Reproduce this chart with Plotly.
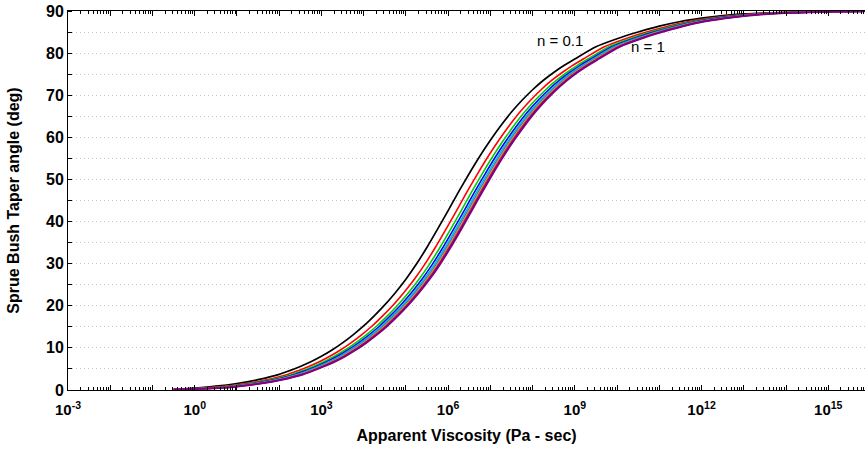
import plotly.graph_objects as go

# Taper angle levels (deg) shared by all curves
ANGLE_DEG = [0.1, 0.45, 0.9, 1.55, 2.45, 3.7, 4.6, 5.6, 6.7, 8.0, 9.5, 11.2, 13.1, 15.2, 17.6,
             20.2, 23.1, 26.3, 29.9, 33.9, 38.2, 42.6, 47.1, 51.4, 55.5, 59.3, 62.8, 66.0, 68.8,
             71.3, 73.5, 75.4, 77.1, 78.6, 81.5, 83.4, 85.0, 86.4, 87.5, 88.3, 88.9, 89.3,
             89.7, 89.9, 90.0]

# log10(apparent viscosity, Pa-s) at which each curve reaches the angle levels above
LOGVISC_N01 = [-0.5, 0.0, 0.5, 1.0, 1.5, 2.0, 2.25, 2.5, 2.75, 3.0, 3.25, 3.5, 3.75, 4.0, 4.25,
               4.5, 4.75, 5.0, 5.25, 5.5, 5.75, 6.0, 6.25, 6.5, 6.75, 7.0, 7.25, 7.5, 7.75, 8.0,
               8.25, 8.5, 8.75, 9.0, 9.5, 10.0, 10.5, 11.0, 11.5, 12.0, 12.5, 13.0, 14.0, 15.0, 16.0]
LOGVISC_N02 = [-0.5, 0.2, 0.7, 1.2, 1.7, 2.2, 2.45, 2.7, 2.95, 3.2, 3.45, 3.7, 3.95, 4.2, 4.45,
               4.7, 4.95, 5.2, 5.45, 5.7, 5.95, 6.2, 6.45, 6.7, 6.95, 7.2, 7.45, 7.7, 7.95, 8.2,
               8.45, 8.7, 8.95, 9.2, 9.7, 10.2, 10.7, 11.2, 11.7, 12.2, 12.7, 13.2, 14.2, 15.2, 16.2]
LOGVISC_N03 = [-0.5, 0.31, 0.81, 1.31, 1.81, 2.31, 2.56, 2.81, 3.06, 3.31, 3.56, 3.81, 4.06, 4.31, 4.56,
               4.81, 5.06, 5.31, 5.56, 5.81, 6.06, 6.31, 6.56, 6.81, 7.06, 7.31, 7.56, 7.81, 8.06, 8.31,
               8.56, 8.81, 9.06, 9.31, 9.81, 10.31, 10.81, 11.31, 11.81, 12.31, 12.81, 13.31, 14.31, 15.31, 16.31]
LOGVISC_N04 = [-0.5, 0.38, 0.88, 1.38, 1.88, 2.38, 2.63, 2.88, 3.13, 3.38, 3.63, 3.88, 4.13, 4.38, 4.63,
               4.88, 5.13, 5.38, 5.63, 5.88, 6.13, 6.38, 6.63, 6.88, 7.13, 7.38, 7.63, 7.88, 8.13, 8.38,
               8.63, 8.88, 9.13, 9.38, 9.88, 10.38, 10.88, 11.38, 11.88, 12.38, 12.88, 13.38, 14.38, 15.38, 16.38]
LOGVISC_N05 = [-0.5, 0.43, 0.93, 1.43, 1.93, 2.43, 2.68, 2.93, 3.18, 3.43, 3.68, 3.93, 4.18, 4.43, 4.68,
               4.93, 5.18, 5.43, 5.68, 5.93, 6.18, 6.43, 6.68, 6.93, 7.18, 7.43, 7.68, 7.93, 8.18, 8.43,
               8.68, 8.93, 9.18, 9.43, 9.93, 10.43, 10.93, 11.43, 11.93, 12.43, 12.93, 13.43, 14.43, 15.43, 16.43]
LOGVISC_N06 = [-0.5, 0.47, 0.97, 1.47, 1.97, 2.47, 2.72, 2.97, 3.22, 3.47, 3.72, 3.97, 4.22, 4.47, 4.72,
               4.97, 5.22, 5.47, 5.72, 5.97, 6.22, 6.47, 6.72, 6.97, 7.22, 7.47, 7.72, 7.97, 8.22, 8.47,
               8.72, 8.97, 9.22, 9.47, 9.97, 10.47, 10.97, 11.47, 11.97, 12.47, 12.97, 13.47, 14.47, 15.47, 16.47]
LOGVISC_N07 = [-0.5, 0.5, 1.0, 1.5, 2.0, 2.5, 2.75, 3.0, 3.25, 3.5, 3.75, 4.0, 4.25, 4.5, 4.75,
               5.0, 5.25, 5.5, 5.75, 6.0, 6.25, 6.5, 6.75, 7.0, 7.25, 7.5, 7.75, 8.0, 8.25, 8.5,
               8.75, 9.0, 9.25, 9.5, 10.0, 10.5, 11.0, 11.5, 12.0, 12.5, 13.0, 13.5, 14.5, 15.5, 16.5]
LOGVISC_N08 = [-0.5, 0.52, 1.02, 1.52, 2.02, 2.52, 2.77, 3.02, 3.27, 3.52, 3.77, 4.02, 4.27, 4.52, 4.77,
               5.02, 5.27, 5.52, 5.77, 6.02, 6.27, 6.52, 6.77, 7.02, 7.27, 7.52, 7.77, 8.02, 8.27, 8.52,
               8.77, 9.02, 9.27, 9.52, 10.02, 10.52, 11.02, 11.52, 12.02, 12.52, 13.02, 13.52, 14.52, 15.52, 16.52]
LOGVISC_N09 = [-0.5, 0.54, 1.04, 1.54, 2.04, 2.54, 2.79, 3.04, 3.29, 3.54, 3.79, 4.04, 4.29, 4.54, 4.79,
               5.04, 5.29, 5.54, 5.79, 6.04, 6.29, 6.54, 6.79, 7.04, 7.29, 7.54, 7.79, 8.04, 8.29, 8.54,
               8.79, 9.04, 9.29, 9.54, 10.04, 10.54, 11.04, 11.54, 12.04, 12.54, 13.04, 13.54, 14.54, 15.54, 16.54]
LOGVISC_N10 = [-0.5, 0.56, 1.06, 1.56, 2.06, 2.56, 2.81, 3.06, 3.31, 3.56, 3.81, 4.06, 4.31, 4.56, 4.81,
               5.06, 5.31, 5.56, 5.81, 6.06, 6.31, 6.56, 6.81, 7.06, 7.31, 7.56, 7.81, 8.06, 8.31, 8.56,
               8.81, 9.06, 9.31, 9.56, 10.06, 10.56, 11.06, 11.56, 12.06, 12.56, 13.06, 13.56, 14.56, 15.56, 16.56]

N_VALUES = ["0.1", "0.2", "0.3", "0.4", "0.5", "0.6", "0.7", "0.8", "0.9", "1"]
CURVES = [LOGVISC_N01, LOGVISC_N02, LOGVISC_N03, LOGVISC_N04, LOGVISC_N05,
          LOGVISC_N06, LOGVISC_N07, LOGVISC_N08, LOGVISC_N09, LOGVISC_N10]
COLORS = ["#000000", "#ff0000", "#00cc00", "#0000ff", "#00bfbf",
          "#2f6fff", "#ff9900", "#c06000", "#a000a0", "#800080"]
WIDTHS = [1.7, 1.6, 1.6, 1.6, 1.5, 1.5, 1.5, 1.5, 1.5, 2.0]

X_MAJOR_EXP = list(range(-3, 16))
X_LABEL_EXP = [-3, 0, 3, 6, 9, 12, 15]
Y_TICKS = [0, 10, 20, 30, 40, 50, 60, 70, 80, 90]
Y_SMALL_TICKS = [0, 5, 10, 15, 20, 25, 30, 35, 40, 45, 50, 55, 60, 65, 70, 75, 80, 85, 90]

FONT = "Liberation Sans, Arial, Helvetica, sans-serif"

fig = go.Figure()
for logs, col, w, n in zip(CURVES, COLORS, WIDTHS, N_VALUES):
    fig.add_trace(go.Scatter(
        x=[10 ** v for v in logs], y=ANGLE_DEG, mode="lines",
        line=dict(color=col, width=w, shape="spline", smoothing=0.7),
        name=f"n = {n}", showlegend=False, hoverinfo="x+y+name"))

tickvals = [10.0 ** e for e in X_MAJOR_EXP]
ticktext = [f"<b>10<sup>{e}</sup></b>" if e in X_LABEL_EXP else "" for e in X_MAJOR_EXP]
minor_vals = [d * 10.0 ** e for e in range(-3, 16) for d in range(2, 10)]

GRID_DASH = "1px,3px"
GRID_COLOR = "#c4c4c4"

fig.update_xaxes(
    type="log", range=[-3, 15.87],
    tickmode="array", tickvals=tickvals, ticktext=ticktext,
    ticks="inside", ticklen=5, tickwidth=1, tickcolor="#000",
    minor=dict(tickmode="array", tickvals=minor_vals, ticks="inside", ticklen=3,
               tickwidth=1, tickcolor="#000", showgrid=False),
    showline=True, linecolor="#000", linewidth=1, mirror="ticks",
    showgrid=False, zeroline=False,
    ticklabelstandoff=6, ticklabeloverflow="allow",
    tickfont=dict(family=FONT, size=15, color="#000"),
    title=dict(text="<b>Apparent Viscosity (Pa - sec)</b>", standoff=12,
               font=dict(family=FONT, size=16, color="#000")),
)
fig.update_yaxes(
    range=[0, 90], tickmode="array", tickvals=Y_TICKS,
    ticktext=[f"<b>{v}</b>" for v in Y_TICKS],
    ticks="outside", ticklen=0, tickwidth=1, tickcolor="#000",
    minor=dict(tickmode="array", tickvals=Y_SMALL_TICKS, ticks="inside", ticklen=4,
               tickwidth=1, tickcolor="#000",
               showgrid=True, gridcolor=GRID_COLOR, griddash=GRID_DASH, gridwidth=1),
    showline=True, linecolor="#000", linewidth=1, mirror=False,
    showgrid=True, gridcolor=GRID_COLOR, griddash=GRID_DASH, gridwidth=1,
    zeroline=False,
    ticklabeloverflow="allow",
    tickfont=dict(family=FONT, size=16, color="#000"),
    title=dict(text="<b>Sprue Bush Taper angle (deg)</b>", standoff=22,
               font=dict(family=FONT, size=16, color="#000")),
)

fig.add_annotation(x=8.66, y=83.1, xref="x", yref="y", text="n = 0.1", showarrow=False,
                   font=dict(family=FONT, size=15, color="#000"))
fig.add_annotation(x=10.74, y=81.5, xref="x", yref="y", text="n = 1", showarrow=False,
                   font=dict(family=FONT, size=15, color="#000"))

fig.update_layout(
    width=865, height=451,
    margin=dict(l=68, r=0, t=11, b=61, autoexpand=False),
    paper_bgcolor="white", plot_bgcolor="white",
    showlegend=False,
)

# remove the default 8px page margin so the figure fills the window exactly
fig.write_html("out.html", config={"displayModeBar": False},
               post_script="document.body.style.margin='0';document.body.style.overflow='hidden';")
